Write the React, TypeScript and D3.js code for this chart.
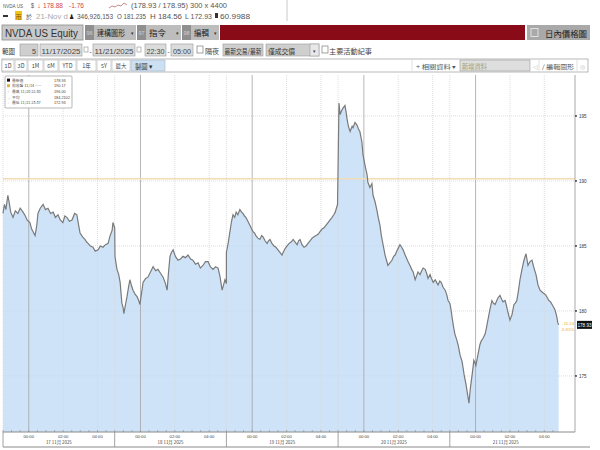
import React, { useEffect, useRef } from 'react';
import * as d3 from 'd3';

// [minutes after 22:30 open, price]
const nov17: [number, number][] = [
  [0, 187.5], [5, 188.2], [10, 187.8], [17, 188.9], [22, 188.3], [27, 187.6], [35, 187.2], [43, 187.7], [52, 187.5],
  [60, 187.9], [70, 187.6], [78, 187.3], [84, 187.0], [94, 186.8], [100, 186.3], [105, 186.1], [112, 185.8],
  [118, 186.6], [122, 187.5], [130, 187.9], [140, 188.2], [148, 187.8], [157, 187.9], [166, 187.5], [175, 187.6],
  [183, 187.2], [192, 187.4], [200, 187.0], [209, 186.8], [216, 187.3], [223, 187.2], [232, 186.9], [241, 187.0],
  [250, 187.5], [258, 187.4], [264, 186.6], [269, 186.0], [278, 185.7], [286, 185.5], [292, 185.3], [297, 185.2],
  [305, 185.0], [314, 184.9], [322, 184.6], [332, 184.7], [340, 185.0], [349, 184.9], [358, 185.1], [367, 185.2],
  [374, 185.8], [381, 186.2], [384, 186.8], [390, 186.4],
];
const nov18: [number, number][] = [
  [1, 184.2], [5, 183.6], [8, 183.2], [14, 182.8], [19, 182.2], [25, 180.6], [29, 180.3], [32, 179.8], [37, 180.4],
  [43, 181.1], [48, 181.8], [53, 182.4], [58, 182.0], [64, 181.6], [71, 181.3], [78, 181.1], [84, 180.8], [88, 180.5],
  [94, 181.4], [99, 182.2], [108, 182.5], [116, 182.6], [125, 183.0], [134, 183.4], [143, 183.1], [151, 183.2],
  [160, 182.9], [169, 182.6], [176, 182.2], [183, 181.6], [188, 183.0], [193, 184.2], [198, 184.5], [204, 184.7],
  [212, 184.2], [221, 183.9], [230, 184.0], [238, 184.2], [247, 184.1], [256, 184.3], [265, 184.0], [273, 183.9],
  [282, 183.6], [291, 183.7], [299, 183.3], [308, 183.5], [317, 183.8], [326, 183.8], [334, 183.4], [343, 183.2],
  [352, 183.4], [361, 183.3], [368, 182.6], [375, 181.6], [380, 182.0], [385, 182.4], [390, 182.1],
];
const nov19: [number, number][] = [
  [0, 184.5], [6, 185.2], [13, 186.2], [18, 186.9], [23, 187.4], [29, 187.2], [34, 187.6], [40, 187.4], [47, 187.8],
  [53, 187.6], [58, 187.5], [63, 187.3], [68, 187.2], [75, 186.9], [82, 186.6], [88, 186.3], [93, 186.1], [98, 186.0],
  [103, 185.8], [110, 185.6], [117, 185.5], [123, 185.8], [128, 185.7], [135, 185.4], [142, 185.2], [147, 185.4],
  [152, 185.5], [159, 185.2], [166, 185.0], [173, 184.9], [180, 184.7], [187, 184.5], [194, 184.3], [200, 184.6],
  [205, 184.8], [212, 185.0], [219, 185.2], [226, 185.3], [233, 185.5], [240, 185.3], [247, 185.1], [252, 185.4],
  [257, 185.5], [264, 185.1], [271, 184.9], [278, 185.0], [285, 185.2], [292, 185.4], [299, 185.6], [306, 185.7],
  [313, 185.8], [320, 185.9], [327, 186.1], [334, 186.3], [341, 186.4], [348, 186.6], [355, 186.8], [362, 187.0],
  [369, 187.2], [375, 187.4], [380, 187.6], [384, 187.9], [388, 188.2],
];
const nov20: [number, number][] = [
  [1, 192.8], [3, 196.0], [7, 195.1], [12, 195.4], [17, 195.6], [24, 195.8], [28, 195.3], [31, 194.8], [36, 194.2],
  [42, 193.8], [49, 194.2], [52, 194.1], [59, 194.5], [66, 194.3], [71, 194.0], [76, 193.8], [83, 193.0], [87, 192.0],
  [94, 191.2], [101, 190.5], [104, 189.9], [111, 189.5], [118, 189.8], [122, 188.9], [129, 188.4], [135, 187.8],
  [141, 187.1], [146, 186.6], [151, 185.8], [157, 185.1], [164, 184.3], [169, 183.9], [174, 183.5], [181, 183.7],
  [188, 183.9], [194, 184.2], [199, 184.3], [207, 184.7], [216, 185.1], [222, 184.9], [227, 184.7], [234, 184.3],
  [244, 183.8], [251, 183.5], [257, 183.2], [262, 183.0], [269, 182.4], [274, 182.7], [279, 183.0], [286, 182.8],
  [292, 183.1], [297, 183.3], [304, 183.2], [309, 182.9], [314, 182.5], [321, 182.8], [326, 182.5], [332, 182.2],
  [339, 182.4], [344, 182.2], [349, 182.0], [355, 182.3], [360, 182.2], [367, 181.8], [374, 181.6], [380, 181.2],
  [384, 180.8], [390, 180.6],
];
const nov21: [number, number][] = [
  [1, 180.5], [5, 180.0], [8, 179.5], [13, 178.8], [18, 178.2], [24, 177.8], [29, 177.4], [36, 176.6], [43, 176.1],
  [50, 175.1], [57, 174.3], [62, 173.6], [67, 172.9], [71, 173.9], [75, 174.6], [78, 175.1], [84, 176.2], [88, 176.0],
  [91, 175.8], [98, 176.6], [105, 177.4], [110, 177.7], [116, 177.9], [123, 178.2], [128, 178.7], [133, 179.3],
  [140, 180.1], [147, 180.8], [152, 180.6], [158, 180.5], [168, 181.0], [175, 181.2], [181, 180.9], [186, 180.7],
  [193, 180.8], [198, 180.4], [203, 179.9], [210, 179.3], [217, 179.7], [224, 180.5], [229, 180.6], [234, 180.8],
  [240, 181.6], [245, 182.4], [252, 183.2], [259, 183.9], [263, 184.2], [266, 184.4], [270, 183.9], [273, 183.5],
  [280, 183.8], [287, 183.9], [294, 183.3], [301, 182.8], [308, 182.0], [315, 181.6], [320, 181.5], [325, 181.4],
  [331, 181.3], [336, 181.2], [341, 181.0], [346, 180.8], [352, 180.7], [357, 180.5], [362, 180.3], [367, 180.1],
  [372, 179.7], [374, 179.5], [377, 179.1], [380, 178.93],
];

const sessions = [nov17, nov18, nov19, nov20, nov21];
const dayLabels = ['17 11月 2025', '18 11月 2025', '19 11月 2025', '20 11月 2025', '21 11月 2025'];
const hourTicks = [90, 210, 330];
const hourLabels = ['00:00', '02:00', '04:00'];
const priceTicks = [175, 180, 185, 190, 195];
const prevClose = 190.17;
const lastPrice = 178.93;
const legendNames = ['最新價', '前收盤 11/14 -----', '最高 11/20 22:30', '平均', '最低 11/21 23:37'];
const legendValues = ['178.93', '190.17', '196.00', '184.2102', '172.93'];
const rangeButtons = ['1D', '3D', '1M', '6M', 'YTD', '1年', '5Y', '最大'];

const narrow = '"Liberation Sans Narrow", "Liberation Sans", sans-serif';
const cjk = '"Noto Sans CJK TC", "Noto Sans", sans-serif';

// text squeezed into a given width, like the terminal's condensed font
const T: React.FC<{ x: number; y: number; w: number; s?: number; c?: string; f?: string; children: string }> =
  ({ x, y, w, s = 7, c = '#555', f = narrow, children }) => (
    <text x={x} y={y} fontSize={s} fill={c} fontFamily={f} textLength={w} lengthAdjust="spacingAndGlyphs">{children}</text>
  );

const App: React.FC = () => {
  const ref = useRef<SVGGElement>(null);

  useEffect(() => {
    drawChart();
  }, []);

  const drawChart = () => {
    const g = d3.select(ref.current);
    g.selectAll('*').remove();

    const dayMin = 390;
    const x = d3.scaleLinear().domain([0, sessions.length * dayMin]).range([3, 561.5]);
    const y = d3.scaleLinear().domain([170.69, 198.15]).range([432, 75]);
    const pts = sessions.flatMap((s, i) => s.map(([m, p]) => ({ t: i * dayMin + m, p })));

    // fill
    const area = d3.area<{ t: number; p: number }>()
      .x(d => x(d.t))
      .y0(y(170.69))
      .y1(d => y(d.p));
    g.append('path').datum(pts).attr('d', area).attr('fill', '#cfe3f8');

    // horizontal grid
    g.selectAll('.hgrid')
      .data(priceTicks)
      .enter().append('line')
      .attr('x1', 3).attr('x2', 575)
      .attr('y1', d => y(d)).attr('y2', d => y(d))
      .attr('stroke', '#d6d6d6').attr('stroke-dasharray', '1,1').attr('stroke-width', 0.8);

    // vertical grid
    sessions.forEach((_, i) => {
      const base = i * dayMin;
      g.append('line')
        .attr('x1', x(base)).attr('x2', x(base)).attr('y1', 75).attr('y2', 432)
        .attr('stroke', '#d6d6d6').attr('stroke-dasharray', '1,1').attr('stroke-width', 0.8);
      hourTicks.forEach((h, j) => {
        g.append('line')
          .attr('x1', x(base + h)).attr('x2', x(base + h)).attr('y1', 75).attr('y2', 432)
          .attr('stroke', j === 0 ? '#a3a3a3' : '#d6d6d6')
          .attr('stroke-dasharray', j === 0 ? null : '1,1')
          .attr('stroke-width', 0.8);
      });
    });

    // previous close
    g.append('line')
      .attr('x1', 3).attr('x2', 575).attr('y1', y(prevClose)).attr('y2', y(prevClose))
      .attr('stroke', '#f1dcb4').attr('stroke-width', 1.6);

    // price line
    const line = d3.line<{ t: number; p: number }>().x(d => x(d.t)).y(d => y(d.p));
    g.append('path').datum(pts).attr('d', line)
      .attr('fill', 'none').attr('stroke', '#7a7a7a').attr('stroke-width', 1.2);

    // right axis
    g.append('line').attr('x1', 575).attr('x2', 575).attr('y1', 75).attr('y2', 432)
      .attr('stroke', '#a8a8a8').attr('stroke-width', 1);
    priceTicks.forEach(t => {
      g.append('circle').attr('cx', 576).attr('cy', y(t)).attr('r', 0.9).attr('fill', '#222');
      g.append('text').attr('x', 579).attr('y', y(t) + 1.6).text(String(t))
        .attr('font-size', 4.5).attr('fill', '#333').attr('font-family', narrow);
    });
    g.append('rect').attr('x', 577).attr('y', y(lastPrice) - 4).attr('width', 15).attr('height', 8).attr('fill', '#111');
    g.append('text').attr('x', 584.5).attr('y', y(lastPrice) + 1.7).attr('text-anchor', 'middle')
      .text(lastPrice.toFixed(2)).attr('font-size', 4.6).attr('fill', '#fff').attr('font-family', narrow);
    const chg = lastPrice - prevClose;
    g.append('text').attr('x', 574).attr('y', y(lastPrice)).attr('text-anchor', 'end')
      .text(chg.toFixed(2)).attr('font-size', 4.2).attr('fill', '#e9a84a').attr('font-family', narrow);
    g.append('text').attr('x', 574).attr('y', y(lastPrice) + 6).attr('text-anchor', 'end')
      .text(((chg / prevClose) * 100).toFixed(2) + '%').attr('font-size', 4.2).attr('fill', '#e9a84a').attr('font-family', narrow);

    // bottom axis
    g.append('line').attr('x1', 3).attr('x2', 575).attr('y1', 432).attr('y2', 432).attr('stroke', '#8a8a8a');
    g.append('line').attr('x1', 3).attr('x2', 590).attr('y1', 447).attr('y2', 447).attr('stroke', '#8a8a8a');
    d3.range(0, sessions.length * dayMin, 30).forEach(t => {
      g.append('line').attr('x1', x(t)).attr('x2', x(t)).attr('y1', 432).attr('y2', 430)
        .attr('stroke', '#8a8a8a').attr('stroke-width', 0.6);
    });
    sessions.forEach((_, i) => {
      const base = i * dayMin;
      g.append('line').attr('x1', x(base)).attr('x2', x(base)).attr('y1', 432).attr('y2', 447)
        .attr('stroke', '#8a8a8a').attr('stroke-width', 0.8);
      hourTicks.forEach((h, j) => {
        g.append('text').attr('x', x(base + h)).attr('y', 437.5).attr('text-anchor', 'middle')
          .text(hourLabels[j]).attr('font-size', 4.2).attr('fill', '#444').attr('font-family', narrow);
      });
      g.append('text').attr('x', x(base + dayMin / 2)).attr('y', 443.5).attr('text-anchor', 'middle')
        .text(dayLabels[i]).attr('font-size', 4.4).attr('fill', '#444').attr('font-family', cjk);
    });

    // legend
    const lg = g.append('g');
    lg.append('rect').attr('x', 5).attr('y', 76).attr('width', 67).attr('height', 32)
      .attr('fill', '#fff').attr('stroke', '#9a9a9a').attr('stroke-width', 0.7).attr('rx', 1);
    const markColors = ['#111', '#e6b23a', '#999', '#e6c15a', '#999'];
    legendNames.forEach((n, i) => {
      const ly = 81 + i * 5.6;
      if (i < 2) {
        lg.append('rect').attr('x', 7).attr('y', ly - 2.4).attr('width', 3).attr('height', 3).attr('fill', markColors[i]);
      } else {
        lg.append('text').attr('x', 7.2).attr('y', ly + 0.8).text(i === 2 ? '↑' : i === 3 ? '↔' : '↓')
          .attr('font-size', 3.8).attr('fill', markColors[i]);
      }
      lg.append('text').attr('x', 12).attr('y', ly + 0.8).text(n)
        .attr('font-size', 3.8).attr('fill', '#555').attr('font-family', cjk);
      lg.append('text').attr('x', 54).attr('y', ly + 0.8).text(legendValues[i])
        .attr('font-size', 3.8).attr('fill', '#444').attr('font-family', narrow);
    });
  };

  const btnX = [2, 15, 28, 44, 59, 77, 97, 112];
  const btnW = [13, 13, 16, 15, 18, 20, 15, 19];

  return (
    <div style={{ position: 'fixed', left: 0, top: 0 }}>
      <svg width={600} height={450} style={{ display: 'block', background: '#fff' }}>
        {/* row 1: quote line */}
        <T x={3} y={8} w={20} s={6}>NVDA US</T>
        <T x={31} y={8} w={3}>$</T>
        <T x={37} y={8} w={4} c="#d24646">↓</T>
        <T x={43} y={8} w={20} c="#d24646">178.88</T>
        <T x={69} y={8} w={15} c="#d24646">-1.76</T>
        <path d="M109,8 L112,6 L115,7 L118,5 L121,6 L124,3 L127,5" fill="none" stroke="#c07070" strokeWidth={0.8} />
        <T x={131} y={8} w={96}>(178.93 / 178.95)  300 x 4400</T>
        {/* row 1b */}
        <rect x={3} y={15} width={5} height={2} fill="#333" />
        <rect x={15} y={11} width={7} height={9} fill="#f0c419" />
        <text x={15.5} y={18.5} fontSize={6} fill="#7a4a00" fontFamily={cjk}>帀</text>
        <text x={26} y={18.5} fontFamily={cjk} fontSize={6} fill="#555">於</text>
        <T x={36} y={18.5} w={32} c="#aaa">21-Nov d</T>
        <T x={69} y={18.5} w={5} c="#222">♟</T>
        <T x={77} y={18.5} w={36}>346,926,153</T>
        <T x={117} y={18.5} w={29}>O 181.235</T>
        <T x={150} y={18.5} w={32}>H 184.56</T>
        <T x={185} y={18.5} w={27}>L 172.93</T>
        <rect x={215} y={13} width={3} height={5} fill="#333" />
        <T x={220} y={18.5} w={30}>60.9988</T>
        <line x1={287} x2={287} y1={0} y2={21} stroke="#bbb" strokeWidth={0.8} />

        {/* row 2: toolbar */}
        <rect x={2} y={25} width={81} height={15} fill="#c9c9c9" stroke="#8c8c8c" strokeWidth={0.8} />
        <T x={5} y={36.5} w={73} s={10} c="#333">NVDA US Equity</T>
        {[
          { x: 85, n: '96', t: '建構圖形', w: 51, tw: 28 },
          { x: 137, n: '97', t: '指令', w: 44, tw: 17 },
          { x: 182, n: '98', t: '編輯', w: 37, tw: 15 },
        ].map(b => (
          <g key={b.n}>
            <rect x={b.x} y={25} width={b.w} height={15} fill="#bdbdbd" />
            <rect x={b.x} y={25} width={9} height={15} fill="#8f8f8f" />
            <text x={b.x + 1.5} y={35} fontSize={5.5} fill="#d0d0d0" fontFamily={narrow}>{b.n}</text>
            <T x={b.x + 12} y={36} w={b.tw} s={8} c="#222" f={cjk}>{b.t}</T>
            <text x={b.x + b.w - 5} y={35} fontSize={5} fill="#333">▾</text>
          </g>
        ))}
        <rect x={220} y={25} width={305} height={15} fill="#8a0b18" />
        <rect x={527} y={25} width={63} height={15} fill="#a9a9a9" />
        <rect x={531} y={28.5} width={7} height={8} fill="none" stroke="#eee" strokeWidth={0.8} />
        <T x={545} y={36.5} w={42} s={8.5} c="#222" f={cjk}>日內價格圖</T>

        {/* row 3: range */}
        <T x={2} y={54} w={13} s={6.5} c="#333" f={cjk}>範圍</T>
        <rect x={20} y={44} width={18} height={12} fill="#cfcfcf" stroke="#999" strokeWidth={0.6} />
        <T x={32} y={53.5} w={4} s={8} c="#444">5</T>
        <rect x={40} y={44} width={42} height={12} fill="#dcdcdc" stroke="#999" strokeWidth={0.6} />
        <T x={41.5} y={53.5} w={39} s={8} c="#444">11/17/2025</T>
        <rect x={84} y={47} width={4} height={5} fill="none" stroke="#777" strokeWidth={0.5} />
        <T x={89.5} y={53.5} w={2} s={8} c="#444">-</T>
        <rect x={93} y={44} width={42} height={12} fill="#dcdcdc" stroke="#999" strokeWidth={0.6} />
        <T x={94.5} y={53.5} w={39} s={8} c="#444">11/21/2025</T>
        <rect x={137} y={47} width={4} height={5} fill="none" stroke="#777" strokeWidth={0.5} />
        <rect x={145} y={44} width={21} height={12} fill="#dcdcdc" stroke="#999" strokeWidth={0.6} />
        <T x={146.5} y={53.5} w={18} s={8} c="#444">22:30</T>
        <T x={167.5} y={53.5} w={2} s={8} c="#444">-</T>
        <rect x={171} y={44} width={22} height={12} fill="#dcdcdc" stroke="#999" strokeWidth={0.6} />
        <T x={173} y={53.5} w={18} s={8} c="#444">05:00</T>
        <rect x={197} y={46} width={6} height={7} fill="#fff" stroke="#666" strokeWidth={0.6} />
        <T x={205} y={54} w={14} s={7} c="#444" f={cjk}>隔夜</T>
        <rect x={223} y={44} width={40} height={12} fill="#cfcfcf" stroke="#999" strokeWidth={0.6} />
        <T x={224.5} y={53.5} w={37} s={7} c="#333" f={cjk}>最新交易/最新</T>
        <rect x={266} y={44} width={53} height={12} fill="#cfcfcf" stroke="#999" strokeWidth={0.6} />
        <T x={268} y={53.5} w={27} s={7} c="#333" f={cjk}>僅成交價</T>
        <rect x={310} y={44} width={9} height={12} fill="#e8e8e8" stroke="#999" strokeWidth={0.6} />
        <text x={312.5} y={52.5} fontSize={5} fill="#444">▾</text>
        <rect x={322} y={46} width={6} height={7} fill="#fff" stroke="#666" strokeWidth={0.6} />
        <T x={329} y={54} w={43} s={7} c="#444" f={cjk}>主要活動紀事</T>

        {/* row 4: buttons */}
        <rect x={2} y={59} width={586} height={13} fill="#fff" stroke="#9a9a9a" strokeWidth={0.7} />
        {rangeButtons.map((b, i) => (
          <g key={b}>
            <rect x={btnX[i]} y={60} width={btnW[i] - 1} height={11} fill="#fff" stroke="#b5b5b5" strokeWidth={0.6} />
            <text x={btnX[i] + (btnW[i] - 1) / 2} y={68.3} textAnchor="middle" fontSize={5.5}
              fontFamily={cjk} fill="#444">{b}</text>
          </g>
        ))}
        <rect x={131} y={60} width={34} height={11} fill="#cde0f2" stroke="#9fb6cc" strokeWidth={0.6} />
        <T x={135} y={68.5} w={18} s={6.5} c="#333" f={cjk}>製圖 ▾</T>
        <line x1={412} x2={412} y1={60} y2={71} stroke="#ccc" strokeWidth={0.6} />
        <T x={416} y={68.5} w={40} s={6} c="#555" f={cjk}>+ 相關資料 ▾</T>
        <rect x={460} y={60} width={70} height={11} fill="#dedede" stroke="#999" strokeWidth={0.6} />
        <T x={462} y={68.5} w={25} s={6.5} c="#a7a070" f={cjk}>新增資料</T>
        <text x={533} y={68.5} fontSize={6} fill="#bbb">◁</text>
        <line x1={539} x2={539} y1={60} y2={71} stroke="#ccc" strokeWidth={0.6} />
        <T x={542} y={68.5} w={32} s={6} c="#555" f={cjk}>/ 編輯圖形</T>
        <line x1={577} x2={577} y1={60} y2={71} stroke="#ccc" strokeWidth={0.6} />
        <text x={580} y={68.5} fontSize={6} fill="#bbb">◎</text>

        <g ref={ref} />
      </svg>
    </div>
  );
};

export default App;
